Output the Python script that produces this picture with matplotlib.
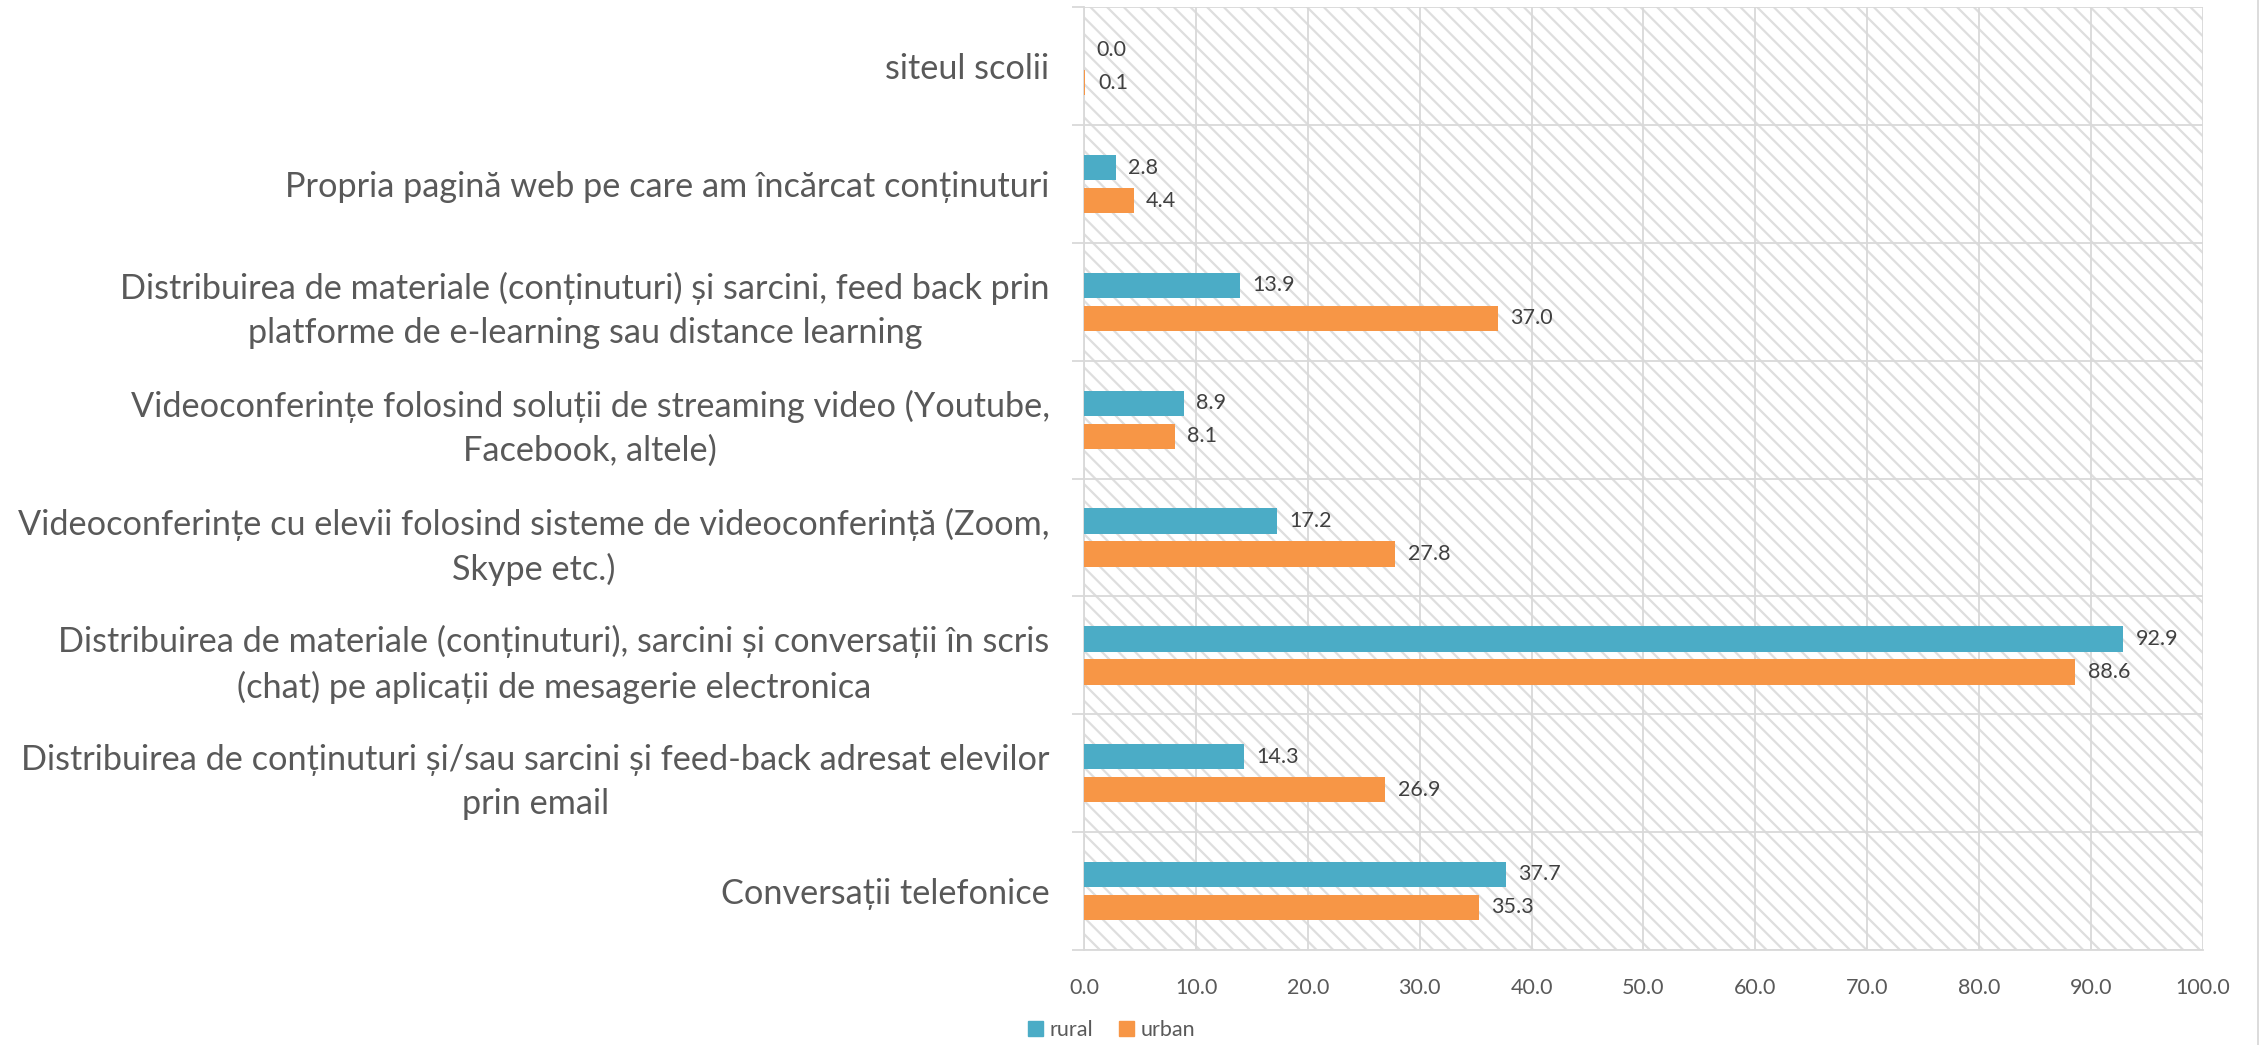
import matplotlib
matplotlib.use("Agg")
import matplotlib.pyplot as plt
import numpy as np
from matplotlib.lines import Line2D
from matplotlib.patches import Patch

plt.rcParams['font.family'] = ['Lato', 'DejaVu Sans']
plt.rcParams['hatch.linewidth'] = 1.6
plt.rcParams['hatch.color'] = '#dedede'

categorii = [
    "Conversații telefonice",
    "Distribuirea de conținuturi și/sau sarcini și feed-back adresat elevilor\nprin email",
    "Distribuirea de materiale (conținuturi), sarcini și conversații în scris\n(chat) pe aplicații de mesagerie electronica",
    "Videoconferințe cu elevii folosind sisteme de videoconferință (Zoom,\nSkype etc.)",
    "Videoconferințe folosind soluții de streaming video (Youtube,\nFacebook, altele)",
    "Distribuirea de materiale (conținuturi) și sarcini, feed back prin\nplatforme de e-learning sau distance learning",
    "Propria pagină web pe care am încărcat conținuturi",
    "siteul scolii",
]
rural = [37.7, 14.3, 92.9, 17.2, 8.9, 13.9, 2.8, 0.0]
urban = [35.3, 26.9, 88.6, 27.8, 8.1, 37.0, 4.4, 0.1]
x_ticks = np.arange(0, 101, 10)

c_rural = '#4BACC6'
c_urban = '#F79646'
grid_c = '#d9d9d9'
txt_c = '#404040'

fig = plt.figure(figsize=(22.59, 10.45), dpi=100)
ax = fig.add_axes([0.480, 0.091, 0.495, 0.902])

ax.patch.set_facecolor('white')
ax.patch.set_hatch('\\\\')
ax.patch.set_edgecolor('#dedede')
ax.patch.set_linewidth(0)

y = np.arange(len(categorii))
h = 0.215
off = 0.14
b1 = ax.barh(y + off, rural, height=h, color=c_rural, zorder=3, label='rural')
b2 = ax.barh(y - off, urban, height=h, color=c_urban, zorder=3, label='urban')

for bars, vals in ((b1, rural), (b2, urban)):
    for rect, v in zip(bars, vals):
        ax.annotate(f"{v:.1f}", (rect.get_width(), rect.get_y() + rect.get_height() / 2),
                    xytext=(9, 0), textcoords='offset points', va='center', ha='left',
                    fontsize=15.5, color=txt_c, zorder=4)

ax.set_xlim(0, 100)
ax.set_ylim(-0.5, len(categorii) - 0.5)
ax.set_xticks(x_ticks)
ax.set_xticklabels([f"{v:.1f}" for v in x_ticks], fontsize=15.5, color='#595959')
ax.set_yticks(y)
ax.set_yticklabels(categorii, fontsize=24.7, color='#595959')
for lbl in ax.get_yticklabels():
    lbl.set_multialignment('center')
    lbl.set_linespacing(1.45)
ax.set_yticks(np.arange(len(categorii) + 1) - 0.5, minor=True)

ax.tick_params(axis='y', which='major', length=0, pad=25)
ax.tick_params(axis='y', which='minor', length=9, width=1.3, color=grid_c)
ax.tick_params(axis='x', length=0, pad=20)

ax.grid(True, axis='x', color=grid_c, linewidth=1.3, zorder=1)
ax.grid(True, axis='y', which='minor', color=grid_c, linewidth=1.3, zorder=1)
ax.set_axisbelow(True)
for s in ('top', 'right'):
    ax.spines[s].set_visible(False)
ax.spines['left'].set_color(grid_c)
ax.spines['left'].set_linewidth(1.3)
ax.spines['bottom'].set_color(grid_c)
ax.spines['bottom'].set_linewidth(1.3)

handles = [Patch(color=c_rural, label='rural'), Patch(color=c_urban, label='urban')]
fig.legend(handles=handles, loc='lower center', bbox_to_anchor=(0.492, -0.014), ncol=2,
           frameon=False, fontsize=15.5, handlelength=0.7, handleheight=0.7,
           handletextpad=0.3, columnspacing=1.2, labelcolor='#595959')

fig.add_artist(Line2D([0.9995, 0.9995], [0, 1], transform=fig.transFigure,
                      color=grid_c, linewidth=1.3))

fig.savefig('out.png', dpi=100)
